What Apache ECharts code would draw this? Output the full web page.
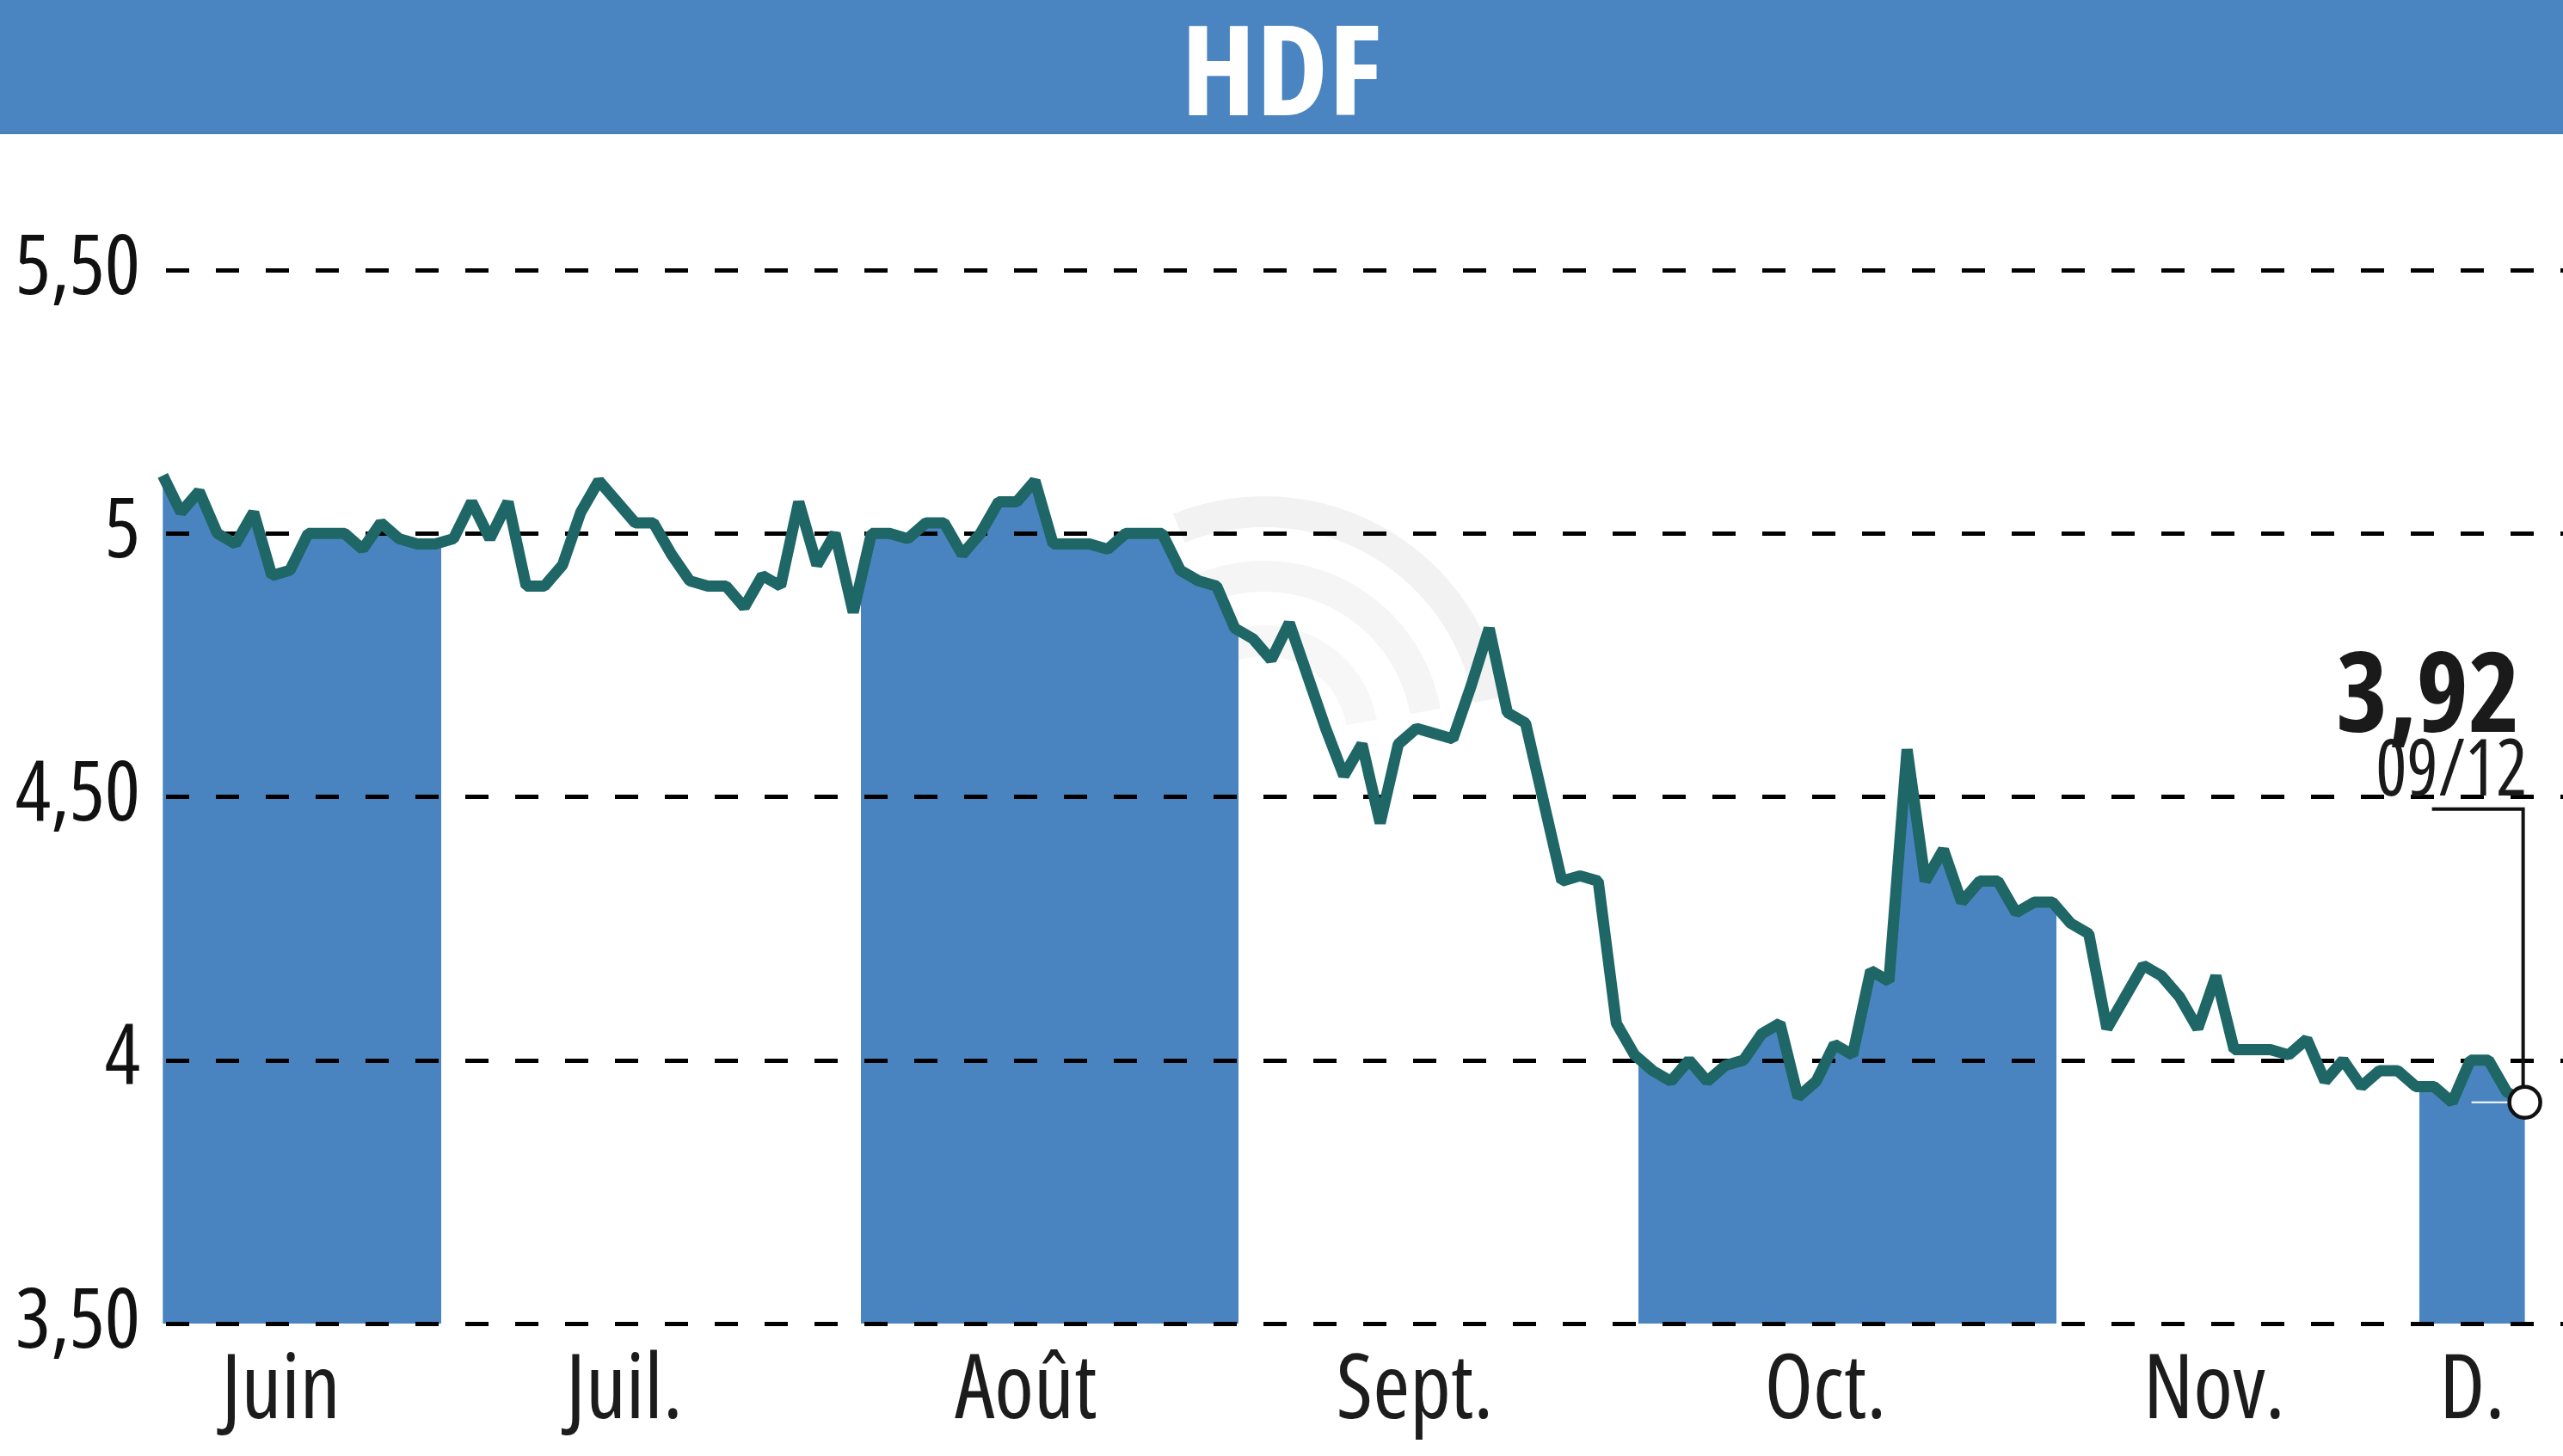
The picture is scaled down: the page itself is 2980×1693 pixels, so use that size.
<!DOCTYPE html>
<html>
<head>
<meta charset="utf-8">
<script src="https://cdn.jsdelivr.net/npm/echarts@6/dist/echarts.min.js"></script>
<style>
html,body{margin:0;padding:0;background:#ffffff;}
#chart{width:2980px;height:1693px;}
</style>
</head>
<body>
<div id="chart"></div>
<script>
// ---------------- DATA ----------------
const chartTitle = 'HDF';
const prices = [
  5.11, 5.04, 5.08, 5.00, 4.98, 5.04, 4.92, 4.93, 5.00, 5.00,
  5.00, 4.97, 5.02, 4.99, 4.98, 4.98, 4.99, 5.06, 4.99, 5.06,
  4.90, 4.90, 4.94, 5.04, 5.10, 5.06, 5.02, 5.02, 4.96, 4.91,
  4.90, 4.90, 4.86, 4.92, 4.90, 5.06, 4.94, 5.00, 4.85, 5.00,
  5.00, 4.99, 5.02, 5.02, 4.96, 5.00, 5.06, 5.06, 5.10, 4.98,
  4.98, 4.98, 4.97, 5.00, 5.00, 5.00, 4.93, 4.91, 4.90, 4.82,
  4.80, 4.76, 4.83, 4.73, 4.63, 4.54, 4.60, 4.45, 4.60, 4.63,
  4.62, 4.61, 4.71, 4.82, 4.66, 4.64, 4.49, 4.34, 4.35, 4.34,
  4.07, 4.01, 3.98, 3.96, 4.00, 3.96, 3.99, 4.00, 4.05, 4.07,
  3.93, 3.96, 4.03, 4.01, 4.17, 4.15, 4.59, 4.34, 4.40, 4.30,
  4.34, 4.34, 4.28, 4.30, 4.30, 4.26, 4.24, 4.06, 4.12, 4.18,
  4.16, 4.12, 4.06, 4.16, 4.02, 4.02, 4.02, 4.01, 4.04, 3.96,
  4.00, 3.95, 3.98, 3.98, 3.95, 3.95, 3.92, 4.00, 4.00, 3.94,
  3.92
];
const monthNames = ['Juin', 'Juil.', 'Août', 'Sept.', 'Oct.', 'Nov.', 'D.'];
const monthLabelPos = [6.5, 25.4, 47.5, 68.9, 91.5, 112.9, 127.1];
const monthBounds = [-0.25, 15.3, 38.4, 59.2, 81.2, 104.2, 124.2, 130.2];
const shadedMonths = [0, 2, 4, 6];
const yTicks = [3.5, 4, 4.5, 5, 5.5];
const yTickLabels = ['3,50', '4', '4,50', '5', '5,50'];
const lastDate = '09/12';

// ---------------- STYLE ----------------
const BLUE = '#4a84c0';
const TEAL = '#1f6666';
const FAMILY = "'Open Sans', 'DejaVu Sans Condensed', sans-serif";

const points = prices.map((v, i) => [i, v]);
const lastIdx = prices.length - 1;
const lastPoint = [lastIdx, prices[lastIdx]];

const pieces = [];
for (let k = 0; k < monthNames.length; k++) {
  pieces.push({
    gte: monthBounds[k],
    lt: monthBounds[k + 1],
    color: shadedMonths.indexOf(k) >= 0 ? BLUE : 'rgba(74,132,192,0)'
  });
}

function yLabel(v) {
  for (let i = 0; i < yTicks.length; i++) if (Math.abs(yTicks[i] - v) < 1e-6) return yTickLabels[i];
  return '';
}
function xLabel(v) {
  let best = 0, d = Infinity;
  for (let i = 0; i < monthLabelPos.length; i++) {
    const dd = Math.abs(monthLabelPos[i] - v);
    if (dd < d) { d = dd; best = i; }
  }
  return monthNames[best];
}

// ink-width measurement, used to fit the condensed display texts
const mctx = document.createElement('canvas').getContext('2d');
function inkWidth(font, s) {
  mctx.font = font;
  const m = mctx.measureText(s);
  const w = (m.actualBoundingBoxLeft || 0) + (m.actualBoundingBoxRight || 0);
  return w > 0 ? w : m.width;
}

const chart = echarts.init(document.getElementById('chart'), null, { renderer: 'canvas' });

const option = {
  animation: false,
  backgroundColor: '#ffffff',
  grid: { left: 184, right: 0, top: 314, bottom: 154, containLabel: false, outerBoundsMode: 'none' },
  visualMap: {
    show: false,
    type: 'piecewise',
    dimension: 0,
    seriesIndex: 0,
    pieces: pieces,
    outOfRange: { color: 'rgba(74,132,192,0)' }
  },
  xAxis: {
    type: 'value',
    min: -0.25,
    max: 132.1,
    axisLine: { show: false },
    axisTick: { show: false },
    splitLine: { show: false },
    axisLabel: {
      customValues: monthLabelPos,
      formatter: xLabel,
      fontFamily: FAMILY,
      fontWeight: 'condensed',
      fontSize: 104,
      color: '#1c1c1c',
      margin: 28
    }
  },
  yAxis: {
    type: 'value',
    min: 3.5,
    max: 5.5,
    interval: 0.5,
    z: 3,
    axisLine: { show: false },
    axisTick: { show: false },
    splitLine: {
      show: true,
      showMinLine: true,
      showMaxLine: true,
      lineStyle: { color: '#000000', width: 5, type: [27, 31], dashOffset: 49 }
    },
    axisLabel: {
      formatter: yLabel,
      fontFamily: FAMILY,
      fontWeight: 'condensed',
      fontSize: 97,
      color: '#111111',
      margin: 21,
      padding: [18, 0, 0, 0]
    }
  },
  series: [
    {
      type: 'line',
      data: points,
      showSymbol: false,
      silent: true,
      z: 1,
      lineStyle: { width: 0 },
      areaStyle: { opacity: 1, origin: 'start' }
    },
    {
      type: 'line',
      data: points,
      showSymbol: false,
      silent: true,
      z: 4,
      lineStyle: { color: TEAL, width: 13, join: 'bevel' }
    },
    {
      type: 'scatter',
      data: [lastPoint],
      symbol: 'circle',
      symbolSize: 36,
      z: 7,
      silent: true,
      itemStyle: { color: '#ffffff', borderColor: '#111111', borderWidth: 4.5, opacity: 1 }
    }
  ]
};
chart.setOption(option);

const p = chart.convertToPixel({ gridIndex: 0 }, lastPoint);
const px = p[0], py = p[1];
const lastText = prices[lastIdx].toFixed(2).replace('.', ',');
const deg = Math.PI / 180;

const titleFont = "condensed bold 146px " + FAMILY;
const valueFont = "condensed bold 129px " + FAMILY;
const dateFont = "condensed 91px " + FAMILY;
const titleScale = 220 / inkWidth(titleFont, chartTitle);
const valueScale = 204 / inkWidth(valueFont, lastText);
const dateScale = 170 / inkWidth(dateFont, lastDate);

chart.setOption({
  graphic: [
    { type: 'rect', z: 0, shape: { x: 0, y: 0, width: 2980, height: 156 }, style: { fill: '#4a85c1' } },
    { type: 'rect', z: 0, shape: { x: 0, y: 153, width: 2980, height: 3 }, style: { fill: '#4780ba' } },
    {
      type: 'text', z: 1, x: 1490, y: 92, scaleX: titleScale,
      style: { text: chartTitle, fill: '#ffffff', font: titleFont, textAlign: 'center', textVerticalAlign: 'middle' }
    },
    { type: 'arc', z: 0, silent: true, shape: { cx: 1470, cy: 860, r: 265, startAngle: -112 * deg, endAngle: -10 * deg }, style: { stroke: 'rgba(0,0,0,0.05)', lineWidth: 36, fill: null } },
    { type: 'arc', z: 0, silent: true, shape: { cx: 1470, cy: 860, r: 190, startAngle: -112 * deg, endAngle: -10 * deg }, style: { stroke: 'rgba(0,0,0,0.04)', lineWidth: 36, fill: null } },
    { type: 'arc', z: 0, silent: true, shape: { cx: 1470, cy: 860, r: 115, startAngle: -112 * deg, endAngle: -10 * deg }, style: { stroke: 'rgba(0,0,0,0.03)', lineWidth: 36, fill: null } },
    {
      type: 'polyline', z: 6, silent: true,
      shape: { points: [[px - 108, py - 341], [px - 2, py - 341], [px - 2, py - 18]] },
      style: { stroke: '#111111', lineWidth: 4, fill: null }
    },
    {
      type: 'line', z: 6, silent: true,
      shape: { x1: px - 62, y1: py, x2: px - 18, y2: py },
      style: { stroke: '#ffffff', lineWidth: 2 }
    },
    {
      type: 'text', z: 6, x: px - 5, y: py - 468, scaleX: valueScale,
      style: { text: lastText, fill: '#1a1a1a', font: valueFont, textAlign: 'right', textVerticalAlign: 'middle' }
    },
    {
      type: 'text', z: 6, x: px + 3, y: py - 383, scaleX: dateScale,
      style: { text: lastDate, fill: '#1a1a1a', font: dateFont, textAlign: 'right', textVerticalAlign: 'middle' }
    }
  ]
});
</script>
</body>
</html>
